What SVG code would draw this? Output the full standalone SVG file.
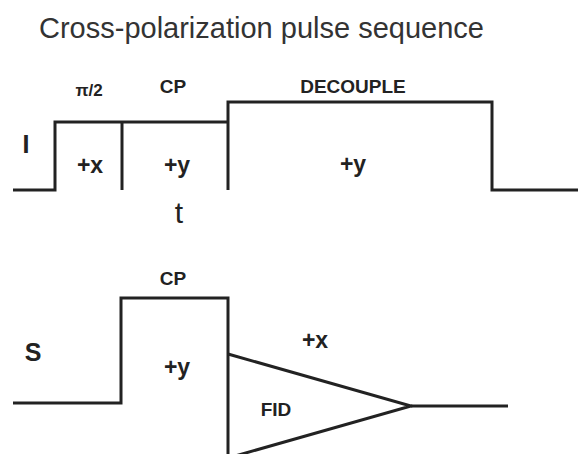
<svg xmlns="http://www.w3.org/2000/svg" width="578" height="454" viewBox="0 0 578 454">
<style>
.ln{fill:none;stroke:#222;stroke-width:3;stroke-linejoin:miter;stroke-linecap:butt}
.lb{font-family:"Liberation Sans",Arial,sans-serif;font-weight:bold;fill:#222;text-anchor:middle}
.tn{font-family:"Liberation Sans",Arial,sans-serif;font-weight:normal;fill:#222;text-anchor:middle}
.tt{font-family:"Liberation Sans",Arial,sans-serif;fill:#333;font-size:29px}
</style>
<rect width="578" height="454" fill="#fff"/>
<text id="title" class="tt" x="39" y="38">Cross-polarization pulse sequence</text>
<g id="connectors">
<path class="ln" d="M13,190 H55 V122 H228"/>
<path class="ln" d="M122,122 V190"/>
<path class="ln" d="M228,190 V102 H492 V190 H578"/>
<path class="ln" d="M13,403 H121 V298 H228 V460"/>
<path class="ln" d="M228,354 L411,406 L228,458"/>
<path class="ln" d="M411,406 H508"/>
</g>
<g id="I-channel">
<text class="lb" x="26" y="153" font-size="25">I</text>
<text class="lb" x="89" y="96" font-size="17">π/2</text>
<text class="lb" x="173" y="93" font-size="19">CP</text>
<text class="lb" x="353" y="93" font-size="19">DECOUPLE</text>
<text class="lb" x="90" y="173" font-size="23">+x</text>
<text class="lb" x="177" y="173" font-size="23">+y</text>
<text class="lb" x="353" y="172" font-size="23">+y</text>
<text class="tn" x="179" y="223" font-size="30">t</text>
</g>
<g id="S-channel">
<text class="lb" x="33" y="361" font-size="25">S</text>
<text class="lb" x="173" y="285" font-size="19">CP</text>
<text class="lb" x="177" y="375" font-size="23">+y</text>
<text class="lb" x="315" y="348" font-size="23">+x</text>
<text class="lb" x="276" y="416" font-size="19">FID</text>
</g>
</svg>
